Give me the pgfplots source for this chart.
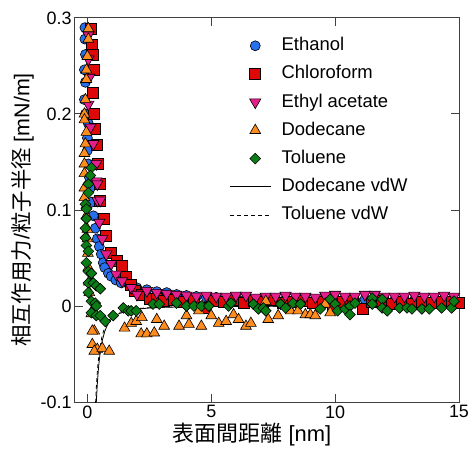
\documentclass[border=0pt]{standalone}
\usepackage{fontspec}
\setmainfont{Liberation Sans}
\newfontfamily\cjk{Noto Sans CJK JP}
\usepackage{pgfplots}
\pgfplotsset{compat=1.18}
\definecolor{cEth}{RGB}{38,112,238}
\definecolor{cChl}{RGB}{222,8,8}
\definecolor{cEac}{RGB}{228,30,140}
\definecolor{cDod}{RGB}{255,140,28}
\definecolor{cTol}{RGB}{12,125,22}
\pgfplotsset{
  mylegend/.style={legend image code/.code={\draw[mark repeat=2,mark phase=2,##1] plot coordinates {(0bp,0bp)(25bp,0bp)(41bp,0bp)};}},
  mylinelegend/.style={legend image code/.code={\draw[##1] (0bp,0bp) -- (41bp,0bp);}},
}
\begin{document}
\begin{tikzpicture}
\begin{axis}[
  name=ax, scale only axis, width=384bp, height=384bp,
  xmin=-0.5, xmax=15, ymin=-0.1, ymax=0.3,
  xtick={0,5,10,15}, ytick={-0.1,0,0.1,0.2,0.3},
  tick align=inside, tick pos=both, major tick length=8bp, minor tick num=0,
  axis line style={line width=1bp, black!75},
  every tick/.style={line width=1bp, black!75},
  /pgf/number format/assume math mode=true,
  ticklabel style={font=\fontsize{18}{20}\selectfont},
  yticklabel style={/pgf/number format/fixed, /pgf/number format/precision=1},
  xlabel={{\cjk 表面間距離} [nm]},
  ylabel={{\cjk 相互作用力}/{\cjk 粒子半径} [mN/m]},
  xlabel style={font=\fontsize{22}{24}\selectfont, xshift=-15bp, yshift=2bp},
  ylabel style={font=\fontsize{21.5}{23}\selectfont},
  legend cell align=left,
  legend style={draw=none, fill=none, at={(0.395,0.962)}, anchor=north west,
    font=\fontsize{18.5}{20}\selectfont, row sep=6.2bp,
    nodes={inner sep=2bp, text height=14bp, text depth=4bp},
    /tikz/every odd column/.append style={column sep=8bp}},
  clip=true,
]
% Ethanol
\addplot[only marks, mark=*, mark size=5bp, mark options={fill=cEth, draw=black, line width=0.6bp}, mylegend] coordinates {
(-0.10,0.290)(-0.10,0.278)(-0.08,0.262)(-0.12,0.246)(-0.08,0.233)(-0.12,0.215)(-0.08,0.200)
(0.04,0.190)(0.00,0.175)(0.00,0.162)(0.04,0.148)(0.08,0.134)(0.12,0.123)(0.16,0.108)
(0.24,0.094)(0.32,0.081)(0.40,0.070)(0.48,0.062)(0.56,0.054)(0.64,0.045)(0.70,0.040)
(0.85,0.034)(0.96,0.031)(1.15,0.027)(1.37,0.024)(1.70,0.021)(2.00,0.019)(2.40,0.017)
(2.80,0.015)(3.20,0.014)(3.60,0.012)(4.00,0.011)(4.40,0.010)(4.80,0.009)(5.20,0.009)
(5.60,0.008)(6.00,0.009)(6.40,0.008)(6.80,0.007)(7.20,0.008)(7.60,0.008)(8.00,0.007)
(8.40,0.008)(8.80,0.007)(9.20,0.006)(9.60,0.008)(10.00,0.007)(10.40,0.007)(10.80,0.006)
(11.20,0.007)(11.60,0.007)(12.00,0.006)(12.40,0.006)(12.80,0.007)(13.20,0.006)(13.60,0.006)
(14.00,0.007)(14.40,0.006)(14.80,0.006)
};
\addlegendentry{Ethanol}
% Chloroform
\addplot[only marks, mark=square*, mark size=5.5bp, mark options={fill=cChl, draw=black, line width=0.6bp}, mylegend] coordinates {
(0.15,0.289)(0.18,0.272)(0.20,0.262)(0.24,0.246)(0.20,0.222)(0.26,0.200)(0.30,0.185)
(0.36,0.168)(0.44,0.148)(0.50,0.127)(0.52,0.110)(0.68,0.091)(0.76,0.073)(0.96,0.055)
(1.20,0.047)(1.37,0.042)(1.55,0.030)(1.75,0.022)(1.90,0.016)(2.20,0.012)(2.50,0.008)
(2.80,0.008)(3.10,0.005)(3.50,0.006)(3.90,0.004)(4.30,0.006)(4.70,-0.002)(5.10,0.005)
(5.50,0.004)(5.90,0.006)(6.30,0.003)(6.70,0.005)(7.10,0.004)(7.50,0.006)(7.90,0.003)
(8.30,0.004)(8.70,0.005)(9.10,0.003)(9.50,0.004)(9.90,0.000)(10.30,0.004)(10.70,0.005)
(11.10,-0.003)(11.50,0.004)(11.90,0.005)(12.30,0.002)(12.70,0.004)(13.10,0.002)(13.50,0.004)
(13.90,0.003)(14.30,0.004)(14.70,0.004)(15.00,0.003)
};
\addlegendentry{Chloroform}
% Ethyl acetate
\addplot[only marks, mark=triangle*, mark size=6.5bp, mark options={rotate=180, fill=cEac, draw=black, line width=0.6bp}, mylegend] coordinates {
(0.04,0.282)(0.04,0.257)(0.08,0.238)(0.04,0.210)(0.12,0.186)(0.24,0.169)(0.36,0.148)
(0.36,0.130)(0.40,0.127)(0.40,0.110)(0.52,0.110)(0.48,0.087)(0.60,0.070)(0.76,0.054)
(0.96,0.044)(1.16,0.033)(1.40,0.026)(1.77,0.019)(2.00,0.012)(2.40,0.016)(2.80,0.014)
(3.20,0.013)(3.60,0.012)(4.00,0.011)(4.40,0.010)(4.80,0.011)(5.20,0.010)(5.60,0.010)
(6.00,0.011)(6.40,0.011)(6.80,0.009)(7.20,0.010)(7.60,0.010)(8.00,0.011)(8.40,0.010)
(8.80,0.010)(9.20,0.009)(9.60,0.011)(10.00,0.012)(10.40,0.010)(10.80,0.010)(11.20,0.012)
(11.60,0.012)(12.00,0.010)(12.40,0.010)(12.80,0.010)(13.20,0.011)(13.60,0.010)(14.00,0.010)
(14.40,0.011)(14.80,0.010)
};
\addlegendentry{Ethyl acetate}
% Dodecane
\addplot[only marks, mark=triangle*, mark size=6.2bp, mark options={fill=cDod, draw=black, line width=0.6bp}, mylegend] coordinates {
(0.04,0.289)(0.04,0.278)(0.00,0.260)(-0.04,0.246)(-0.04,0.236)(-0.08,0.215)(-0.12,0.200)
(-0.12,0.194)(-0.04,0.181)(-0.08,0.169)(-0.12,0.159)(-0.12,0.148)(-0.12,0.138)(-0.12,0.123)
(-0.12,0.113)(-0.04,0.105)(-0.04,0.094)(0.00,0.080)(0.00,0.070)(0.02,0.055)(0.04,0.040)
(0.06,0.025)(0.08,0.014)(0.20,-0.005)(0.16,-0.008)(0.28,-0.026)(0.20,-0.026)(0.20,-0.040)
(0.40,-0.045)(0.28,-0.047)(0.60,-0.044)(0.88,-0.047)(1.50,-0.023)(1.77,-0.018)(1.97,-0.016)
(2.20,-0.012)(2.17,-0.029)(2.40,-0.029)(2.80,-0.014)(2.70,-0.028)(3.10,-0.021)(3.70,-0.021)
(4.00,-0.010)(4.10,-0.019)(4.50,-0.005)(4.60,-0.021)(5.00,-0.010)(5.30,-0.018)(5.60,-0.016)
(5.90,-0.009)(6.10,-0.014)(6.40,-0.021)(6.60,-0.018)(7.20,0.005)(7.30,-0.014)(7.70,-0.010)
(8.20,-0.005)(8.50,-0.005)(8.80,-0.009)(9.00,-0.009)(9.20,-0.010)(9.60,0.002)(9.80,-0.007)
};
\addlegendentry{Dodecane}
% Toluene
\addplot[only marks, mark=square*, mark size=3.8bp, mark options={rotate=45, fill=cTol, draw=black, line width=0.6bp}, mylegend] coordinates {
(0.16,0.144)(0.12,0.136)(0.04,0.127)(0.04,0.118)(-0.08,0.106)(-0.04,0.101)(-0.04,0.091)
(-0.08,0.081)(-0.08,0.071)(-0.04,0.063)(0.04,0.057)(-0.04,0.045)(0.04,0.036)(0.16,0.034)
(0.04,0.024)(0.24,0.024)(0.36,0.021)(0.52,0.018)(0.04,0.014)(0.16,0.005)(0.32,0.003)
(0.36,0.000)(0.16,-0.007)(0.36,-0.010)(0.52,-0.010)(0.72,-0.016)(1.04,-0.010)(1.45,-0.002)
(1.65,-0.005)(1.77,-0.005)(1.97,-0.005)(2.65,0.002)(2.90,0.002)(3.60,0.003)(4.00,0.000)
(4.30,0.000)(4.60,0.000)(4.90,0.000)(5.70,0.000)(5.80,0.003)(6.70,0.002)(6.90,-0.003)
(7.10,-0.002)(7.20,-0.005)(7.80,0.002)(8.00,-0.002)(8.30,0.003)(8.60,0.002)(9.40,-0.003)
(9.80,0.007)(10.00,0.002)(10.10,-0.005)(10.40,-0.003)(10.60,0.000)(10.60,-0.009)(10.80,0.003)
(11.50,0.008)(11.50,0.002)(11.90,0.007)(11.90,-0.002)(12.10,-0.005)(12.60,-0.002)(12.90,-0.002)
(13.10,-0.003)(13.50,-0.003)(13.80,-0.003)(14.30,-0.002)(14.70,-0.002)(14.80,0.005)
};
\addlegendentry{Toluene}
% vdW lines
\addplot[black, line width=0.8bp, mylinelegend] coordinates {
(0.36,-0.1003)(0.40,-0.0813)(0.45,-0.0642)(0.50,-0.0520)(0.60,-0.0361)(0.70,-0.0265)
(0.80,-0.0203)(0.90,-0.0160)(1.00,-0.0130)(1.25,-0.0083)(1.50,-0.0058)(2.00,-0.00325)
(2.50,-0.0021)(3.00,-0.00144)(4.00,-0.00081)(5.00,-0.00052)(7.00,-0.00027)(10.00,-0.00013)(15.00,-0.00006)
};
\addlegendentry{Dodecane vdW}
\addplot[black, line width=0.8bp, dash pattern=on 4bp off 3bp, mylinelegend] coordinates {
(0.33,-0.101)(0.37,-0.0804)(0.42,-0.0624)(0.50,-0.0440)(0.60,-0.0306)(0.70,-0.0224)
(0.80,-0.0172)(1.00,-0.0110)(1.25,-0.0070)(1.50,-0.0049)(2.00,-0.00275)(2.50,-0.00176)
(3.00,-0.00122)(4.00,-0.00069)(5.00,-0.00044)(7.00,-0.00022)(10.00,-0.00011)(15.00,-0.00005)
};
\addlegendentry{Toluene vdW}
\end{axis}
\pgfresetboundingbox
\useasboundingbox ([shift={(-75bp,-53bp)}]ax.south west) rectangle ([shift={(10bp,18bp)}]ax.north east);
\end{tikzpicture}
\end{document}
